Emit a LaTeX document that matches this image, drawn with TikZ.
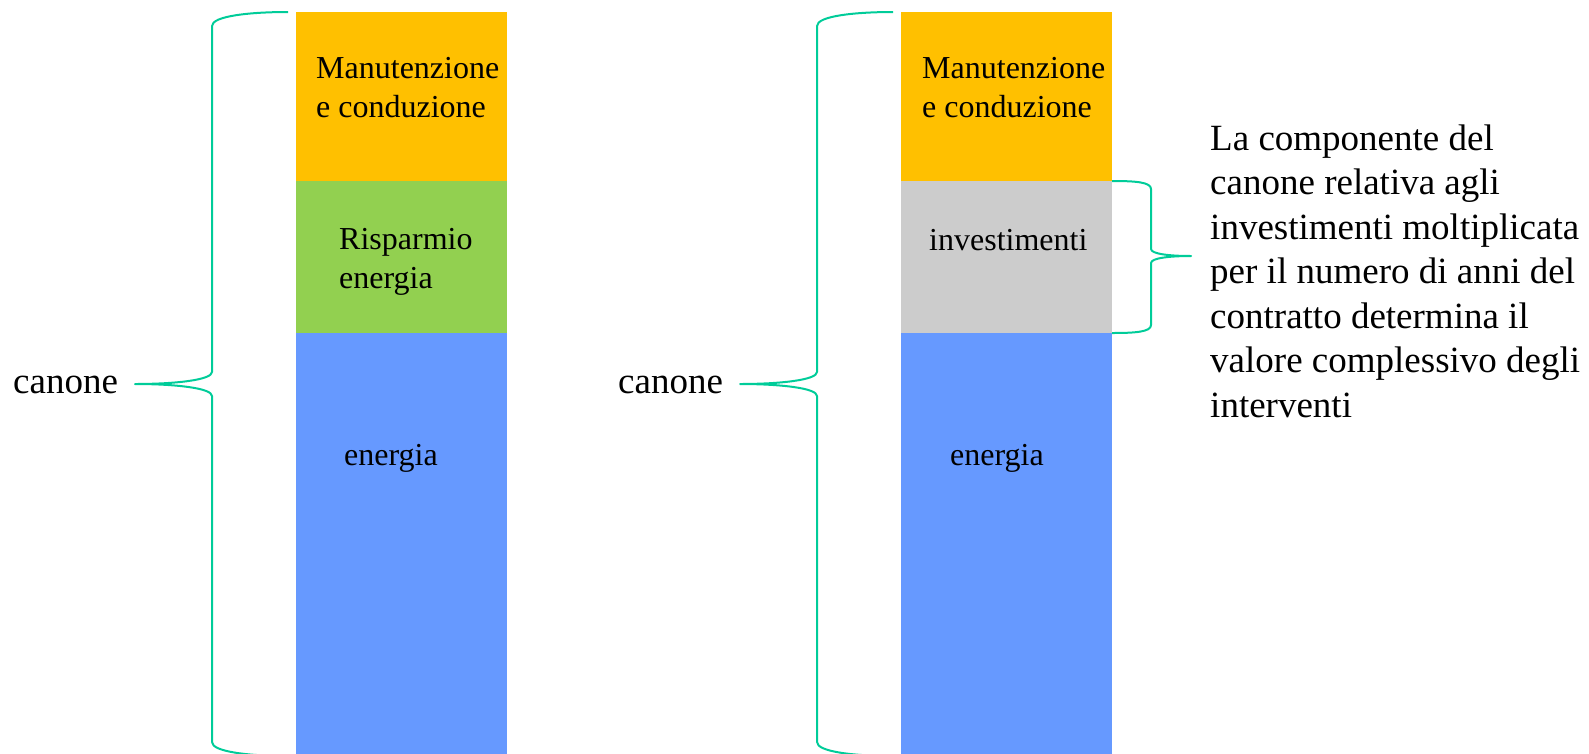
\documentclass[tikz,border=0pt]{standalone}
\usepackage{fontspec}
\setmainfont{Liberation Serif}
\definecolor{orng}{HTML}{FFC000}
\definecolor{grn}{HTML}{92D050}
\definecolor{blu}{HTML}{6699FF}
\definecolor{gry}{HTML}{CCCCCC}
\definecolor{brc}{HTML}{00CC99}
\tikzset{
  bar/.style={draw=none, inner sep=0pt, outer sep=0pt, minimum width=211pt, anchor=north west},
  boxtxt/.style={inner sep=0pt, anchor=base west, align=left, font=\fontsize{32}{38.4}\selectfont},
  bigtxt/.style={inner sep=0pt, anchor=base west, align=left, font=\fontsize{37}{44.5}\selectfont},
  bracestyle/.style={draw=brc, line width=2pt, line join=round}
}
\begin{document}
\begin{tikzpicture}[x=1pt,y=-1pt]
\useasboundingbox (0,0) rectangle (1589,753);
\clip (0,0) rectangle (1589,753);
% left column
\node[bar, fill=orng, minimum height=169pt] (lm) at (296,12) {};
\node[bar, fill=grn, minimum height=152pt] (lr) at (296,181) {};
\node[bar, fill=blu, minimum height=430pt] (le) at (296,333) {};
\node[boxtxt] (tlm) at (316,117) {Manutenzione\\e conduzione};
\node[boxtxt] (tlr) at (339,288) {Risparmio\\energia};
\node[boxtxt] (tle) at (344,465) {energia};
\node[bigtxt] (cl) at (13,393) {canone};
% right column
\node[bar, fill=orng, minimum height=169pt] (rm) at (901,12) {};
\node[bar, fill=gry, minimum height=152pt] (ri) at (901,181) {};
\node[bar, fill=blu, minimum height=430pt] (re) at (901,333) {};
\node[boxtxt] (trm) at (922,117) {Manutenzione\\e conduzione};
\node[boxtxt] (tri) at (929,250) {investimenti};
\node[boxtxt] (tre) at (950,465) {energia};
\node[bigtxt] (cr) at (618,393) {canone};
\node[bigtxt] (note) at (1210,417) {La componente del\\canone relativa agli\\investimenti moltiplicata\\per il numero di anni del\\contratto determina il\\valore complessivo degli\\interventi};
% braces
\draw[bracestyle] (288,12) .. controls (250,12) and (212,16) .. (212,26)
  -- (212,372) .. controls (212,380) and (175,384) .. (135,384)
  .. controls (175,384) and (212,388) .. (212,396)
  -- (212,742) .. controls (212,752) and (250,756) .. (288,756);
\draw[bracestyle] (893,12) .. controls (855,12) and (817,16) .. (817,26)
  -- (817,372) .. controls (817,380) and (780,384) .. (740,384)
  .. controls (780,384) and (817,388) .. (817,396)
  -- (817,742) .. controls (817,752) and (855,756) .. (893,756);
\draw[bracestyle] (ri.north east) .. controls (1135,181) and (1151,182) .. (1151,189)
  -- (1151,249) .. controls (1151,254) and (1170,256) .. (1191,256)
  .. controls (1170,256) and (1151,258) .. (1151,263)
  -- (1151,325) .. controls (1151,332) and (1135,333) .. (ri.south east);
\end{tikzpicture}
\end{document}
